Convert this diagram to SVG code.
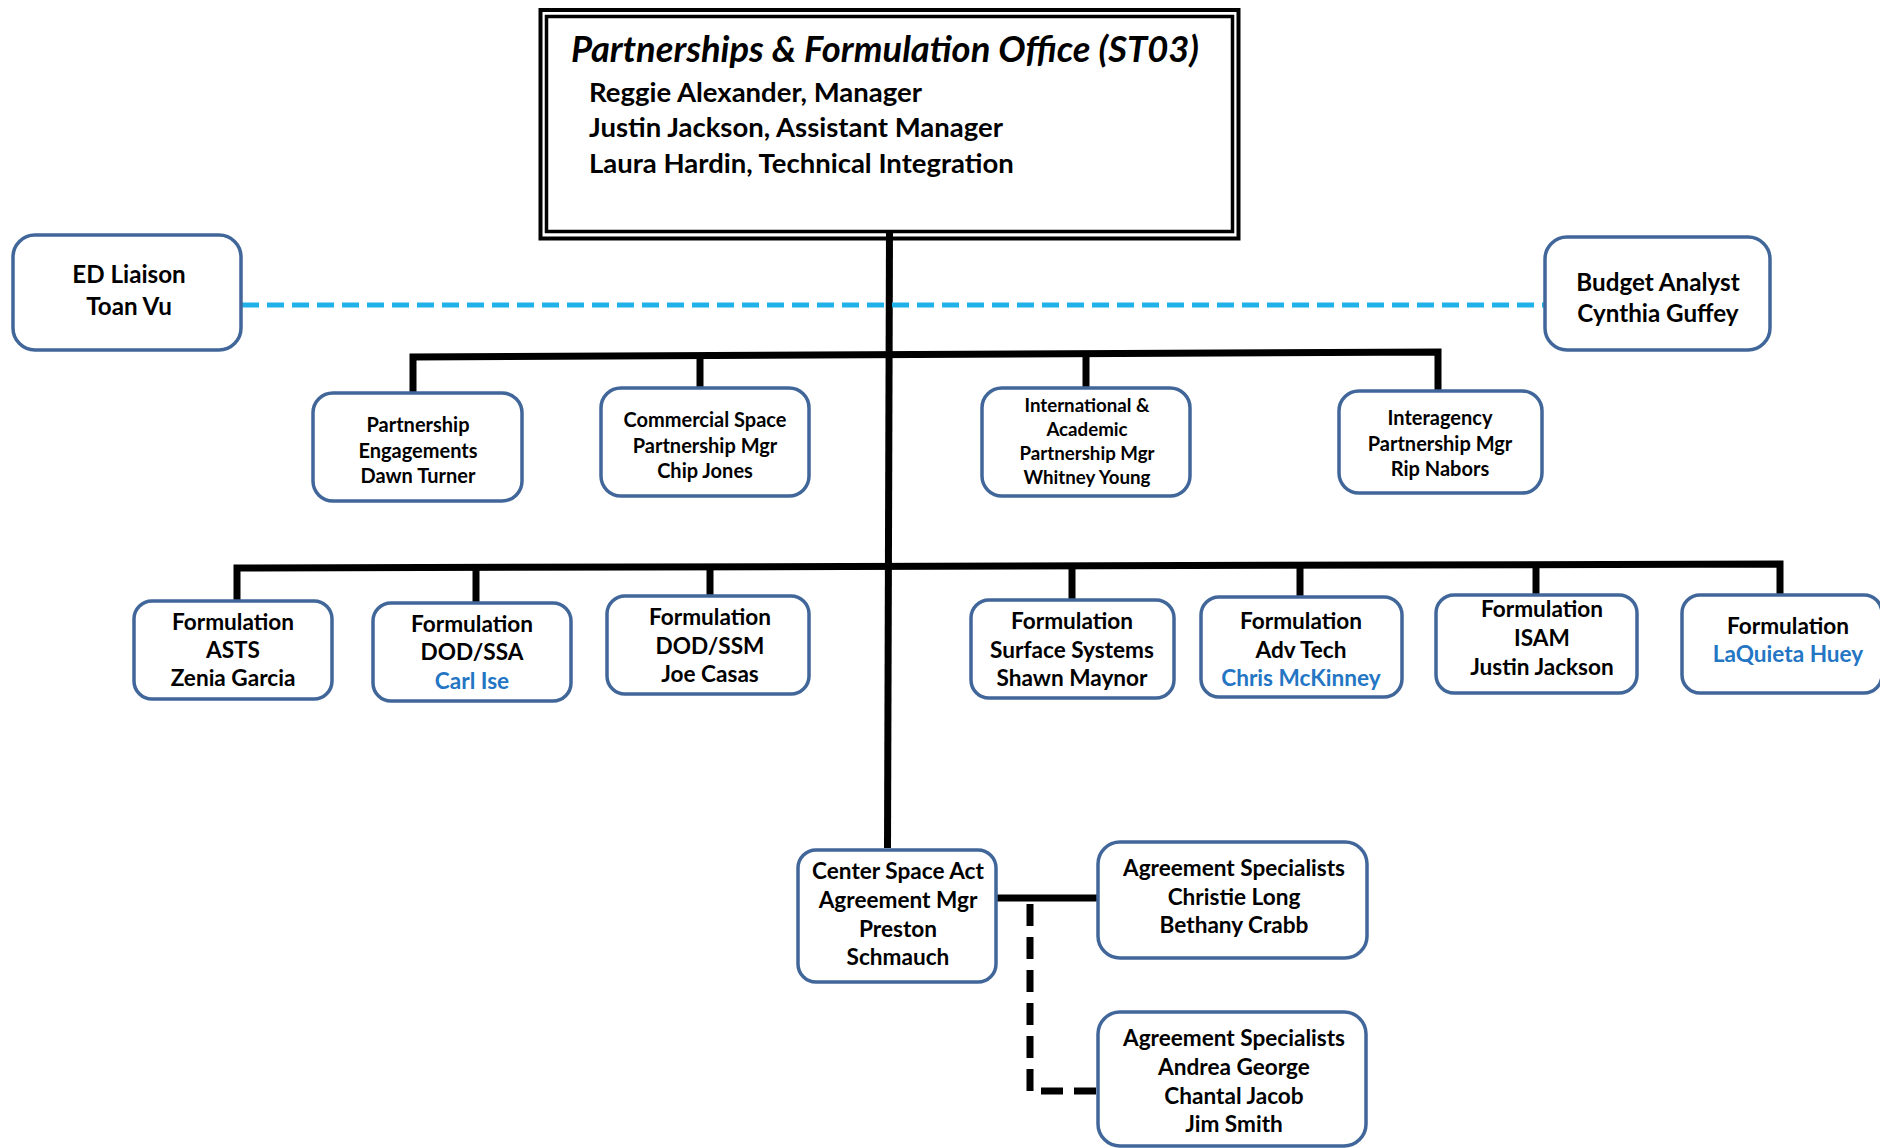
<svg xmlns="http://www.w3.org/2000/svg" width="1880" height="1148" viewBox="0 0 1880 1148">
<style>
text{font-family:Lato,"Open Sans","Liberation Sans",sans-serif;font-weight:bold;fill:#000;text-anchor:middle}
.box{fill:#fff;stroke:#41679A;stroke-width:3.5}
.l1{font-size:20px}
.l1s{font-size:18.7px}
.l2{font-size:22.6px}
.big{font-size:24.2px}
.blue{fill:#2476C4}
.conn{fill:none;stroke:#000;stroke-width:7;stroke-linecap:butt}
</style>
<rect width="1880" height="1148" fill="#fff"/>
<g id="office">
<rect x="540.5" y="10" width="698" height="228.5" fill="none" stroke="#000" stroke-width="4"/>
<rect x="546.5" y="16.5" width="686" height="215" fill="#fff" stroke="#000" stroke-width="3.5"/>
<text x="571" y="62" textLength="628" lengthAdjust="spacingAndGlyphs" style="font-size:36px;font-style:italic;text-anchor:start">Partnerships &amp; Formulation Office (ST03)</text>
<text x="589" y="102" style="font-size:27.5px;text-anchor:start">Reggie Alexander, Manager</text>
<text x="589" y="137" style="font-size:27.5px;text-anchor:start">Justin Jackson, Assistant Manager</text>
<text x="589" y="173" style="font-size:27.5px;text-anchor:start">Laura Hardin, Technical Integration</text>
</g>
<g id="connectors">
<line class="conn" x1="889.5" y1="230" x2="887.5" y2="848"/>
<line x1="242" y1="305" x2="1545" y2="305" stroke="#1FB1E8" stroke-width="5" stroke-dasharray="17,8"/>
<polyline class="conn" points="413,392 413,357 1438,352 1438,391" stroke-linejoin="miter"/>
<line class="conn" x1="700" y1="355" x2="700" y2="388"/>
<line class="conn" x1="1086" y1="353" x2="1086" y2="388"/>
<polyline class="conn" points="237,601 237,568 1780,564 1780,595" stroke-linejoin="miter"/>
<line class="conn" x1="476" y1="567" x2="476" y2="603"/>
<line class="conn" x1="710" y1="567" x2="710" y2="596"/>
<line class="conn" x1="1072" y1="566" x2="1072" y2="600"/>
<line class="conn" x1="1300" y1="565" x2="1300" y2="597"/>
<line class="conn" x1="1536" y1="565" x2="1536" y2="595"/>
<line class="conn" x1="996" y1="898" x2="1098" y2="898"/>
<polyline fill="none" stroke="#000" stroke-width="7" stroke-dasharray="22,11" points="1030,904 1030,1091 1098,1091"/>
</g>
<g id="ed-liaison">
<rect class="box" x="13" y="235" width="228" height="115" rx="22"/>
<text class="big" x="129" y="283">ED Liaison</text>
<text class="big" x="129" y="315">Toan Vu</text>
</g>
<g id="budget-analyst">
<rect class="box" x="1545" y="237" width="225" height="113" rx="22"/>
<text class="big" x="1658" y="291">Budget Analyst</text>
<text class="big" x="1658" y="322">Cynthia Guffey</text>
</g>
<g id="partnership-engagements">
<rect class="box" x="313" y="393" width="209" height="108" rx="20"/>
<text class="l1" x="418" y="432">Partnership</text>
<text class="l1" x="418" y="458">Engagements</text>
<text class="l1" x="418" y="483">Dawn Turner</text>
</g>
<g id="commercial-space">
<rect class="box" x="601" y="388" width="208" height="108" rx="20"/>
<text class="l1" x="705" y="427">Commercial Space</text>
<text class="l1" x="705" y="453">Partnership Mgr</text>
<text class="l1" x="705" y="478">Chip Jones</text>
</g>
<g id="international-academic">
<rect class="box" x="982" y="388" width="208" height="108" rx="20"/>
<text class="l1s" x="1087" y="412">International &amp;</text>
<text class="l1s" x="1087" y="436">Academic</text>
<text class="l1s" x="1087" y="460">Partnership Mgr</text>
<text class="l1s" x="1087" y="484">Whitney Young</text>
</g>
<g id="interagency">
<rect class="box" x="1339" y="391" width="203" height="102" rx="20"/>
<text class="l1" x="1440" y="425">Interagency</text>
<text class="l1" x="1440" y="451">Partnership Mgr</text>
<text class="l1" x="1440" y="476">Rip Nabors</text>
</g>
<g id="form-asts">
<rect class="box" x="134" y="601" width="198" height="98" rx="18"/>
<text class="l2" x="233" y="630">Formulation</text>
<text class="l2" x="233" y="658">ASTS</text>
<text class="l2" x="233" y="686">Zenia Garcia</text>
</g>
<g id="form-dod-ssa">
<rect class="box" x="373" y="603" width="198" height="98" rx="18"/>
<text class="l2" x="472" y="632">Formulation</text>
<text class="l2" x="472" y="660">DOD/SSA</text>
<text class="l2 blue" x="472" y="689">Carl Ise</text>
</g>
<g id="form-dod-ssm">
<rect class="box" x="607" y="596" width="202" height="98" rx="18"/>
<text class="l2" x="710" y="625">Formulation</text>
<text class="l2" x="710" y="654">DOD/SSM</text>
<text class="l2" x="710" y="682">Joe Casas</text>
</g>
<g id="form-surface">
<rect class="box" x="971" y="600" width="203" height="98" rx="18"/>
<text class="l2" x="1072" y="629">Formulation</text>
<text class="l2" x="1072" y="658">Surface Systems</text>
<text class="l2" x="1072" y="686">Shawn Maynor</text>
</g>
<g id="form-advtech">
<rect class="box" x="1201" y="597" width="201" height="100" rx="18"/>
<text class="l2" x="1301" y="629">Formulation</text>
<text class="l2" x="1301" y="658">Adv Tech</text>
<text class="l2 blue" x="1301" y="686">Chris McKinney</text>
</g>
<g id="form-isam">
<rect class="box" x="1436" y="595" width="201" height="98" rx="18"/>
<text class="l2" x="1542" y="617">Formulation</text>
<text class="l2" x="1542" y="646">ISAM</text>
<text class="l2" x="1542" y="675">Justin Jackson</text>
</g>
<g id="form-laquieta">
<rect class="box" x="1682" y="595" width="200" height="98" rx="18"/>
<text class="l2" x="1788" y="634">Formulation</text>
<text class="l2 blue" x="1788" y="662">LaQuieta Huey</text>
</g>
<g id="center-space-act">
<rect class="box" x="798" y="850" width="198" height="132" rx="18"/>
<text class="l2" x="898" y="879">Center Space Act</text>
<text class="l2" x="898" y="908">Agreement Mgr</text>
<text class="l2" x="898" y="937">Preston</text>
<text class="l2" x="898" y="965">Schmauch</text>
</g>
<g id="agreement-specialists-1">
<rect class="box" x="1098" y="842" width="269" height="116" rx="22"/>
<text class="l2" x="1234" y="876">Agreement Specialists</text>
<text class="l2" x="1234" y="905">Christie Long</text>
<text class="l2" x="1234" y="933">Bethany Crabb</text>
</g>
<g id="agreement-specialists-2">
<rect class="box" x="1098" y="1012" width="268" height="134" rx="22"/>
<text class="l2" x="1234" y="1046">Agreement Specialists</text>
<text class="l2" x="1234" y="1075">Andrea George</text>
<text class="l2" x="1234" y="1104">Chantal Jacob</text>
<text class="l2" x="1234" y="1132">Jim Smith</text>
</g>
</svg>
